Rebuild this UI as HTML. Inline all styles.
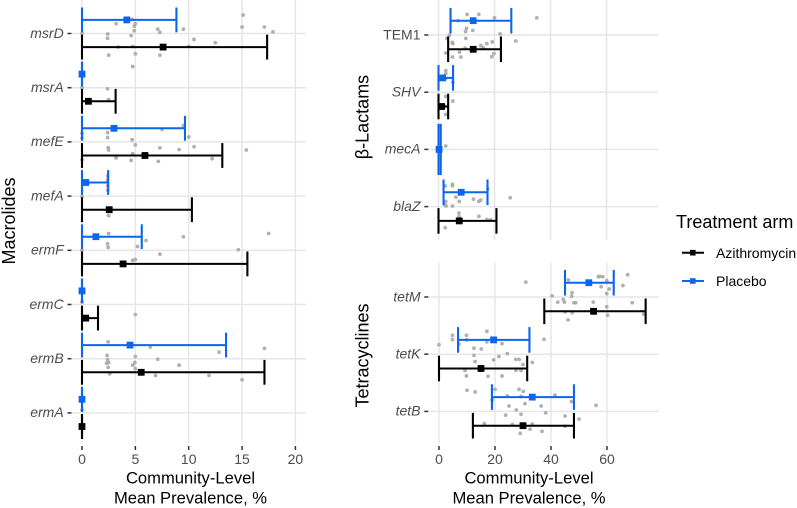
<!DOCTYPE html>
<html>
<head>
<meta charset="utf-8">
<style>
html,body{margin:0;padding:0;background:#fff;}
svg{display:block;font-family:"Liberation Sans",sans-serif;}
</style>
</head>
<body>
<svg id="chart" width="797" height="508" viewBox="0 0 797 508" xmlns="http://www.w3.org/2000/svg">
  <rect x="0" y="0" width="797" height="508" fill="#ffffff"/>
  <g id="panels"></g>
  <text transform="translate(15 221) rotate(-90)" text-anchor="middle" font-size="18" fill="#000">Macrolides</text>
  <text transform="translate(368.5 117) rotate(-90)" text-anchor="middle" font-size="18" fill="#000">β-Lactams</text>
  <text transform="translate(368.5 355.5) rotate(-90)" text-anchor="middle" font-size="18" fill="#000">Tetracyclines</text>
  <text x="190.5" y="483.5" text-anchor="middle" font-size="16.6" fill="#000">Community-Level</text>
  <text x="190.5" y="503.5" text-anchor="middle" font-size="16.6" fill="#000">Mean Prevalence, %</text>
  <text x="529" y="483.5" text-anchor="middle" font-size="16.6" fill="#000">Community-Level</text>
  <text x="529" y="503.5" text-anchor="middle" font-size="16.6" fill="#000">Mean Prevalence, %</text>
  <g>
    <text x="676" y="228" font-size="18" fill="#000">Treatment arm</text>
    <g>
      <line x1="682" x2="704" y1="252.7" y2="252.7" stroke="#000" stroke-width="2"/>
      <rect x="690" y="249.9" width="5.6" height="5.6" fill="#000"/>
      <text x="716" y="257.8" font-size="14" fill="#000">Azithromycin</text>
    </g>
    <g>
      <line x1="682" x2="704" y1="281" y2="281" stroke="#0a66ee" stroke-width="2"/>
      <rect x="690" y="278.2" width="5.6" height="5.6" fill="#0a66ee"/>
      <text x="716" y="286" font-size="14" fill="#000">Placebo</text>
    </g>
  </g>
</svg>
<script>
/* ---------- Macrolides ---------- */
const macrolideGenes = ["msrD","msrA","mefE","mefA","ermF","ermC","ermB","ermA"];
const macrolideTicks = [0,5,10,15,20];
const macrolidePlaceboMean = [4.2,0,3,0.35,1.3,0,4.5,0];
const macrolidePlaceboLow = [0,0,0,0,0,0,0,0];
const macrolidePlaceboHigh = [8.85,0,9.65,2.45,5.6,0,13.5,0];
const macrolideAzithroMean = [7.6,0.6,5.9,2.55,3.85,0.35,5.55,0];
const macrolideAzithroLow = [0,0,0,0,0,0,0,0];
const macrolideAzithroHigh = [17.35,3.15,13.15,10.3,15.5,1.5,17.1,0];
const macrolideDotValues = [
  [15.1,4.7,3.2,5,4.9,15,17.1,7.1,4.9,9.5,7.3,17.9,0,2.4,4.6,2.4,10.5,12.5,3.4,4.75,10,2.5,5,7.3],
  [4.75,2.4,2.5,0],
  [7.5,9.5,10,2.4,2.4,4.7,5,2.45,2.5,7.3,9.1,10.5,15.4,4.75,3.2,4.6,7.15,12.2,0,0,0],
  [2.4,2.4,2.4,2.4,2.5,0],
  [2.5,17.5,9.5,6,2.4,2.45,5.2,14.65,7.3,5,4.75,0],
  [5,0],
  [2.45,6.4,12.85,17.1,2.35,5,7.1,2.4,4.95,2.3,2.5,4.75,5,2.45,9.1,2.6,6.9,11.9,15],
  [0]
];
const macrolideDotJitter = [
  [-.34,-.26,-.18,-.18,-.135,-.12,-.12,-.08,-.05,-.08,-.02,-.03,0,.01,.04,.09,.11,.17,.25,.24,.24,.4,.375,.4],
  [-.39,.02,.22,0],
  [-.23,-.3,-.09,-.17,-.08,-.04,.055,.105,.15,.11,.14,.09,.15,.22,.295,.34,.36,.31,-.16,-.07,.33],
  [-.37,-.295,-.19,-.11,.36,.01],
  [-.31,-.31,-.25,-.18,-.12,-.055,-.07,-.01,.07,.17,.185,0],
  [.185,-.05],
  [-.31,-.215,-.12,-.19,-.06,-.04,.01,.02,.07,.085,.075,.12,.185,.16,.12,.28,.31,.31,.39],
  [-.05]
];

/* ---------- Beta-lactams ---------- */
const betaGenes = ["TEM1","SHV","mecA","blaZ"];
const betaTicks = [0,20,40,60];
const betaPlaceboMean = [12.4,1.45,0.2,8.1];
const betaPlaceboLow = [4.3,0,0,1.8];
const betaPlaceboHigh = [26,5.2,0.8,17.5];
const betaAzithroMean = [12.4,1.1,null,7.4];
const betaAzithroLow = [3.45,0,null,0];
const betaAzithroHigh = [22.3,3.45,null,20.7];
const betaDotValues = [
  [10.2,14.4,20,35.1,7,10,9.65,12.25,22,3.9,3,9.75,4.9,5.1,27.6,19.2,17.25,15.1,16,9.5,2.6,7.5,19.8,19,5,8],
  [2.6,2.6,2.6,5.1,2.6,5.1,2.6,2.6],
  [2.6],
  [5,5,2.4,17.6,25.6,6.2,12.5,15.1,14.4,2.6,7.4,2.3,2.7,5,7.3,14.4,17.3,18.6,7.3,2.4]
];
const betaDotJitter = [
  [-.36,-.36,-.3,-.3,-.25,-.115,-.06,-.08,-.02,.005,.06,.06,.13,.15,.105,.12,.15,.185,.22,.23,.315,.3,.325,.38,.385,.385],
  [-.38,-.33,-.24,-.175,.075,.155,.25,.39],
  [-.06],
  [-.39,-.365,-.36,-.31,-.155,-.165,-.13,-.115,-.09,-.09,-.09,-.03,-.01,-.01,.115,.17,.225,.23,.175,.37]
];

/* ---------- Tetracyclines ---------- */
const tetraGenes = ["tetM","tetK","tetB"];
const tetraTicks = [0,20,40,60];
const tetraPlaceboMean = [53.5,19.5,33.3];
const tetraPlaceboLow = [45,6.8,18.9];
const tetraPlaceboHigh = [62.4,32.3,48.2];
const tetraAzithroMean = [55.2,15,30];
const tetraAzithroLow = [37.6,0,12.1];
const tetraAzithroHigh = [73.8,31.5,48.2];
const tetraDotValues = [
  [67.4,31,56.9,57.5,58.5,46.2,59.9,65.7,57.9,60.8,47.5,59.9,40.4,47.4,44.4,42.4,44.8,48.2,48.8,55.1,69,59.9,45,47.6,60.2,73.1,46.1],
  [17.1,4.8,9.8,4.8,9.9,17.1,37.5,22.5,0,7.1,12.5,15.1,24.4,12.5,21.4,19.5,27.4,28.6,12.9,33.3,30,9.3,27.5,29.3,9.8,17.5,22.5],
  [10,12.9,20,28.6,30.1,24.4,29.3,41.4,19,47.3,30.7,25,36.5,56.1,27.6,38.1,23.8,29.3,45,50,16.2,26.2,33.3,45,32.5,36.8,29]
];
const tetraDotJitter = [
  [-.39,-.26,-.355,-.36,-.355,-.3,-.285,-.2,-.18,-.14,-.075,-.06,-.02,-.01,.045,.09,.09,.1,.1,.09,.1,.17,.26,.275,.32,.3,.4],
  [-.4,-.33,-.33,-.255,-.25,-.215,-.26,-.185,-.165,-.175,-.105,-.09,-.01,.02,.04,.1,.09,.09,.13,.145,.18,.285,.28,.285,.38,.385,.38],
  [-.37,-.34,-.385,-.385,-.35,-.27,-.26,-.285,-.2,-.17,-.135,-.095,-.095,-.105,-.025,.025,.065,.05,.08,.135,.215,.23,.22,.26,.31,.35,.385]
];

const SVG_NS = "http://www.w3.org/2000/svg";
const AZITHRO_COLOR = "#000000";
const PLACEBO_COLOR = "#0a66ee";
const root = document.getElementById("panels");

function make(tag, parent, attrs, text) {
  const el = document.createElementNS(SVG_NS, tag);
  Object.keys(attrs).forEach(function (k) { el.setAttribute(k, attrs[k]); });
  if (text !== undefined) el.textContent = text;
  parent.appendChild(el);
  return el;
}

function drawSeries(parent, arm, color, gene, xScale, y, capHalf, mean, low, high) {
  const g = make("g", parent, {});
  
  
  const bar = make("line", g, {x1: xScale(low), x2: xScale(high), y1: y, y2: y, stroke: color, "stroke-width": 2});
  
  
  const capLow = make("line", g, {x1: xScale(low), x2: xScale(low), y1: y - capHalf, y2: y + capHalf, stroke: color, "stroke-width": 2.1});
  
  
  const capHigh = make("line", g, {x1: xScale(high), x2: xScale(high), y1: y - capHalf, y2: y + capHalf, stroke: color, "stroke-width": 2.1});
  
  
  const marker = make("rect", g, {x: xScale(mean) - 3.4, y: y - 3.4, width: 6.8, height: 6.8, fill: color});
  
  
}

function drawPanel(p) {
  const panel = make("g", root, {});
  
  

  const xScale = function (v) { return p.x0 + v * p.pxPerUnit; };
  const yScale = function (i) { return p.firstRow + i * p.rowStep; };

  p.ticks.forEach(function (t) {
    const grid = make("line", panel, {x1: xScale(t), x2: xScale(t), y1: p.top, y2: p.bottom, stroke: "#e6e6e6", "stroke-width": 1.5});
    
    
    if (p.showXAxis) {
      const tick = make("line", panel, {x1: xScale(t), x2: xScale(t), y1: 446, y2: 450, stroke: "#333333", "stroke-width": 1.5});
      
      
      const label = make("text", panel, {x: xScale(t), y: 464, "text-anchor": "middle", "font-size": 14, fill: "#4d4d4d"}, String(t));
      
      
    }
  });

  p.genes.forEach(function (gene, i) {
    const y = yScale(i);
    const grid = make("line", panel, {x1: p.left, x2: p.right, y1: y, y2: y, stroke: "#e6e6e6", "stroke-width": 1.5});
    
    
    const tick = make("line", panel, {x1: p.left - 4.5, x2: p.left - 0.5, y1: y, y2: y, stroke: "#333333", "stroke-width": 1.5});
    
    
    const label = make("text", panel, {x: p.left - 8.3, y: y + 4.3, "text-anchor": "end", "font-size": 14, "font-style": gene === "TEM1" ? "normal" : "italic", fill: "#4d4d4d"}, gene);
    
    
  });

  p.genes.forEach(function (gene, i) {
    p.dotValues[i].forEach(function (v, k) {
      const dot = make("circle", panel, {cx: xScale(v), cy: yScale(i) + p.dotJitter[i][k] * p.rowStep, r: 1.9, fill: "#a8a8a8", "fill-opacity": 0.9});
      
      
    });
  });

  p.genes.forEach(function (gene, i) {
    const y = yScale(i);
    const single = p.azithroMean[i] === null;
    const placeboY = single ? y : y - p.dodge;
    const placeboCap = single ? p.capHalf * 2 : p.capHalf;
    drawSeries(panel, 'placebo', PLACEBO_COLOR, gene, xScale, placeboY, placeboCap, p.placeboMean[i], p.placeboLow[i], p.placeboHigh[i]);
    if (!single) {
      drawSeries(panel, 'azithromycin', AZITHRO_COLOR, gene, xScale, y + p.dodge, p.capHalf, p.azithroMean[i], p.azithroLow[i], p.azithroHigh[i]);
    }
  });
}

drawPanel({
  name: "macrolides", genes: macrolideGenes, ticks: macrolideTicks,
  x0: 82, pxPerUnit: 10.67, firstRow: 33.5, rowStep: 54.2, dodge: 13.6, capHalf: 12.4,
  left: 72, right: 306, top: 0, bottom: 443, showXAxis: true,
  placeboMean: macrolidePlaceboMean, placeboLow: macrolidePlaceboLow, placeboHigh: macrolidePlaceboHigh,
  azithroMean: macrolideAzithroMean, azithroLow: macrolideAzithroLow, azithroHigh: macrolideAzithroHigh,
  dotValues: macrolideDotValues, dotJitter: macrolideDotJitter
});
drawPanel({
  name: "beta-lactams", genes: betaGenes, ticks: betaTicks,
  x0: 438.5, pxPerUnit: 2.8, firstRow: 35, rowStep: 57.2, dodge: 14.3, capHalf: 12.8,
  left: 428.8, right: 658.5, top: 0, bottom: 240, showXAxis: false,
  placeboMean: betaPlaceboMean, placeboLow: betaPlaceboLow, placeboHigh: betaPlaceboHigh,
  azithroMean: betaAzithroMean, azithroLow: betaAzithroLow, azithroHigh: betaAzithroHigh,
  dotValues: betaDotValues, dotJitter: betaDotJitter
});
drawPanel({
  name: "tetracyclines", genes: tetraGenes, ticks: tetraTicks,
  x0: 439, pxPerUnit: 2.8, firstRow: 297, rowStep: 57.2, dodge: 14.3, capHalf: 12.8,
  left: 428.8, right: 658.5, top: 263, bottom: 443, showXAxis: true,
  placeboMean: tetraPlaceboMean, placeboLow: tetraPlaceboLow, placeboHigh: tetraPlaceboHigh,
  azithroMean: tetraAzithroMean, azithroLow: tetraAzithroLow, azithroHigh: tetraAzithroHigh,
  dotValues: tetraDotValues, dotJitter: tetraDotJitter
});
</script>
</body>
</html>
